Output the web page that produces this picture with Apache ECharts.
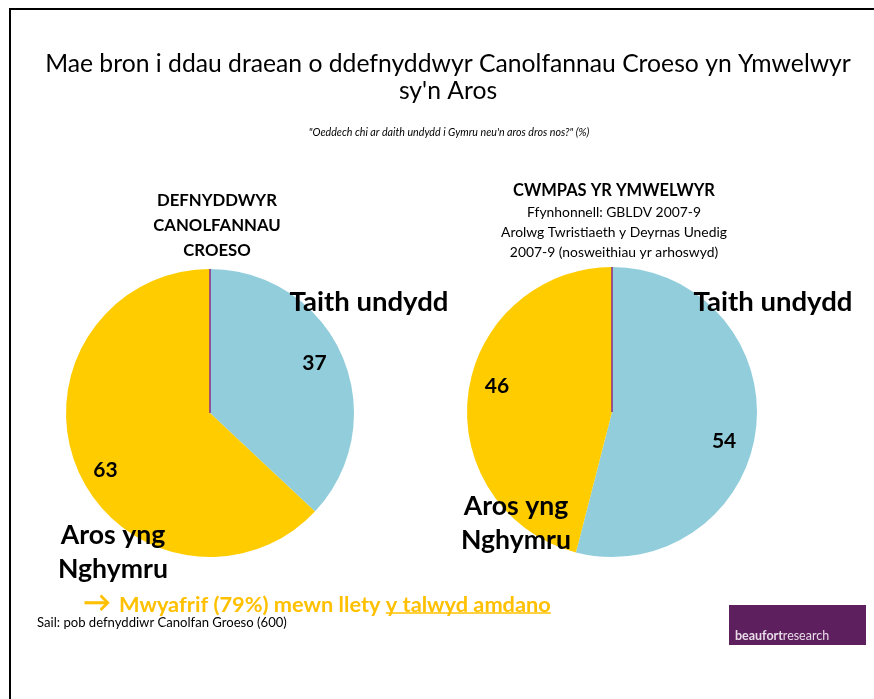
<!DOCTYPE html>
<html>
<head>
<meta charset="utf-8">
<script src="https://cdn.jsdelivr.net/npm/echarts@6/dist/echarts.min.js"></script>
<style>
  html, body { margin: 0; padding: 0; background: #fff; }
  #chart { width: 874px; height: 699px; }
</style>
</head>
<body>
<div id="chart"></div>
<script>
// categories, shared by both pies
const categories = ['Taith undydd', 'Aros yng Nghymru']
// Defnyddwyr Canolfannau Croeso (%)
const centreUsers = [37, 63]
// Cwmpas yr ymwelwyr (%)
const visitorScope = [54, 46]

const colors = ['#92CDDC', '#FFCC00']
const FONT = 'Lato'

const leftPie = { center: [210, 413], r: 144, nudge: [[-4, -3], [4, 10]] }
const rightPie = { center: [612, 412], r: 145, nudge: [[-6, 14], [3, -11]] }

// text width helpers, the original uses Calibri so sizes are fitted to its widths
const ctx = document.createElement('canvas').getContext('2d')
const measure = (txt, size, weight) => {
  ctx.font = (weight || 'normal') + ' ' + size + 'px ' + FONT
  return ctx.measureText(txt).width
}
const fit = (txt, width, weight) => 20 * width / measure(txt, 20, weight)

const toData = (vals, pie, withLabel) => vals.map((v, i) => {
  const item = { name: categories[i], value: v }
  if (withLabel) item.label = { offset: pie.nudge[i] }
  return item
})

const sliceSeries = (pie, vals) => ({
  type: 'pie',
  center: pie.center,
  radius: [0, pie.r],
  startAngle: 90,
  clockwise: true,
  silent: true,
  animation: false,
  color: colors,
  label: { show: false },
  labelLine: { show: false },
  data: toData(vals, pie, false)
})

// labels sit at 0.8 of the radius, like the original
const labelSeries = (pie, vals) => ({
  type: 'pie',
  center: pie.center,
  radius: [pie.r * 0.6, pie.r],
  startAngle: 90,
  clockwise: true,
  silent: true,
  animation: false,
  z: 5,
  itemStyle: { color: 'rgba(0,0,0,0)' },
  label: {
    show: true,
    position: 'inside',
    formatter: '{c}',
    fontFamily: FONT,
    fontWeight: 'bold',
    fontSize: 21,
    color: '#000'
  },
  labelLine: { show: false },
  data: toData(vals, pie, true)
})

const text = (x, y, str, style) => ({
  type: 'text', x: x, y: y, silent: true, z: 100,
  style: Object.assign({ text: str, fontFamily: FONT, fill: '#000', textVerticalAlign: 'middle' }, style)
})

const purpleLine = (pie) => ({
  type: 'line', silent: true, z: 50,
  shape: { x1: pie.center[0], y1: pie.center[1], x2: pie.center[0], y2: pie.center[1] - pie.r },
  style: { stroke: '#8B2A8B', lineWidth: 1.5 }
})

const titleSize = fit('Mae bron i ddau draean o ddefnyddwyr Canolfannau Croeso yn Ymwelwyr', 806)
const subSize = fit('"Oeddech chi ar daith undydd i Gymru neu\'n aros dros nos?" (%)', 298)
const headSizeL = fit('DEFNYDDWYR', 120, 'bold')
const headSizeR = fit('CWMPAS YR YMWELWYR', 202, 'bold')
const srcSize = fit('Arolwg Twristiaeth y Deyrnas Unedig', 226)
const catSize = fit(categories[0], 159, 'bold')
const catSize2 = fit('Nghymru', 110, 'bold')

const notePart1 = 'Mwyafrif (79%) mewn llety '
const notePart2 = 'y talwyd amdano'
const noteX = 119
const noteSize = fit(notePart1 + notePart2, 432, 'bold')
const part1W = measure(notePart1, noteSize, 'bold')
const part2W = measure(notePart2, noteSize, 'bold')
const footSize = fit('Sail: pob defnyddiwr Canolfan Groeso (600)', 250)
const logoSize = fit('beaufortresearch', 95, 'bold')
const orange = '#FFC000'

const chart = echarts.init(document.getElementById('chart'), null, { renderer: 'canvas' })

chart.setOption({
  backgroundColor: '#fff',
  animation: false,
  series: [
    sliceSeries(leftPie, centreUsers),
    labelSeries(leftPie, centreUsers),
    sliceSeries(rightPie, visitorScope),
    labelSeries(rightPie, visitorScope)
  ],
  graphic: [
    // frame
    { type: 'rect', silent: true, shape: { x: 10, y: 9, width: 900, height: 720 },
      style: { fill: 'none', stroke: '#000', lineWidth: 2 } },
    // title
    text(448, 64, 'Mae bron i ddau draean o ddefnyddwyr Canolfannau Croeso yn Ymwelwyr', { fontSize: titleSize, textAlign: 'center' }),
    text(448, 91, "sy'n Aros", { fontSize: titleSize, textAlign: 'center' }),
    text(449, 133, '"Oeddech chi ar daith undydd i Gymru neu\'n aros dros nos?" (%)',
      { fontSize: subSize, fontStyle: 'italic', textAlign: 'center' }),
    // pie headings
    text(217, 201, 'DEFNYDDWYR', { fontSize: headSizeL, fontWeight: 'bold', textAlign: 'center' }),
    text(217, 226, 'CANOLFANNAU', { fontSize: headSizeL, fontWeight: 'bold', textAlign: 'center' }),
    text(217, 251, 'CROESO', { fontSize: headSizeL, fontWeight: 'bold', textAlign: 'center' }),
    text(614, 191, 'CWMPAS YR YMWELWYR', { fontSize: headSizeR, fontWeight: 'bold', textAlign: 'center' }),
    text(614, 213, 'Ffynhonnell: GBLDV 2007-9', { fontSize: srcSize, textAlign: 'center' }),
    text(614, 233, 'Arolwg Twristiaeth y Deyrnas Unedig', { fontSize: srcSize, textAlign: 'center' }),
    text(614, 253, '2007-9 (nosweithiau yr arhoswyd)', { fontSize: srcSize, textAlign: 'center' }),
    purpleLine(leftPie),
    purpleLine(rightPie),
    // category names
    text(369, 302, categories[0], { fontSize: catSize, fontWeight: 'bold', textAlign: 'center' }),
    text(773, 302, categories[0], { fontSize: catSize, fontWeight: 'bold', textAlign: 'center' }),
    text(113, 535, 'Aros yng', { fontSize: catSize2, fontWeight: 'bold', textAlign: 'center' }),
    text(113, 569, 'Nghymru', { fontSize: catSize2, fontWeight: 'bold', textAlign: 'center' }),
    text(516, 506, 'Aros yng', { fontSize: catSize2, fontWeight: 'bold', textAlign: 'center' }),
    text(516, 540, 'Nghymru', { fontSize: catSize2, fontWeight: 'bold', textAlign: 'center' }),
    // note
    text(83, 603, '\u2192', { fontSize: 28, fontWeight: 'bold', fill: orange }),
    text(noteX, 605, notePart1, { fontSize: noteSize, fontWeight: 'bold', fill: orange }),
    text(noteX + part1W, 605, notePart2, { fontSize: noteSize, fontWeight: 'bold', fill: orange }),
    { type: 'line', silent: true, z: 100,
      shape: { x1: noteX + part1W, y1: 613, x2: noteX + part1W + part2W, y2: 613 },
      style: { stroke: orange, lineWidth: 1.5 } },
    text(37, 623, 'Sail: pob defnyddiwr Canolfan Groeso (600)', { fontSize: footSize }),
    // logo
    { type: 'rect', silent: true, z: 90, shape: { x: 729, y: 605, width: 137, height: 40 },
      style: { fill: '#5E1F5E' } },
    text(735, 636, 'beaufort', { fontSize: logoSize, fontWeight: 'bold', fill: '#E8DCE8' }),
    text(735 + measure('beaufort', logoSize, 'bold'), 636, 'research', { fontSize: logoSize, fill: '#E8DCE8' })
  ]
})
</script>
</body>
</html>
